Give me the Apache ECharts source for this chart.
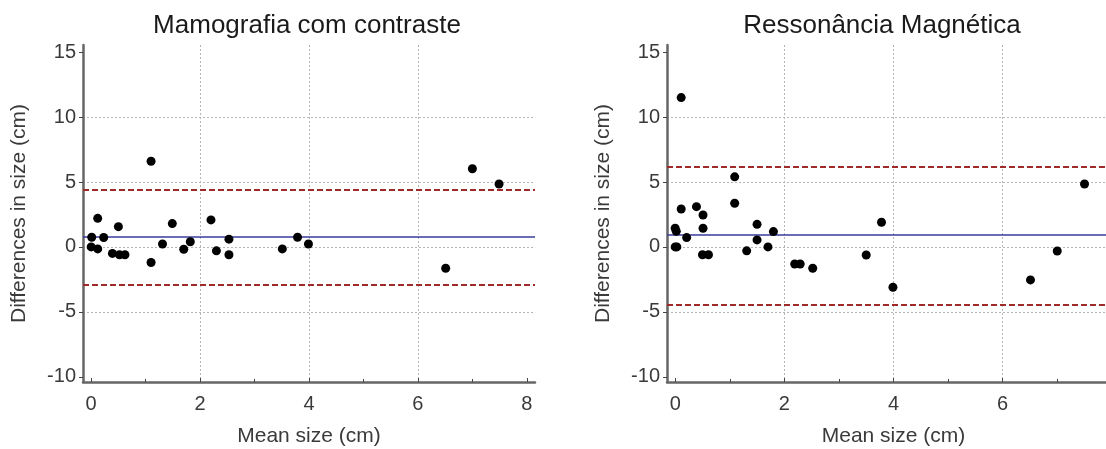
<!DOCTYPE html>
<html>
<head>
<meta charset="utf-8">
<script src="https://cdn.jsdelivr.net/npm/echarts@6/dist/echarts.min.js"></script>
<style>
  html, body { margin: 0; padding: 0; background: #fff; }
  #chart { width: 1106px; height: 449px; }
</style>
</head>
<body>
<div id="chart"></div>
<script>
// Mamografia com contraste: mean size vs difference
const mamoMean = [0.01, 0.0, 0.12, 0.12, 0.23, 0.39, 0.5, 0.52, 0.62, 1.1, 1.1, 1.31, 1.49, 1.7, 1.82, 2.2, 2.3, 2.53, 2.53, 3.51, 3.79, 3.99, 6.51, 7.0, 7.49]
const mamoDiff = [0.75, 0.0, 2.2, -0.15, 0.73, -0.5, 1.56, -0.6, -0.6, 6.6, -1.2, 0.23, 1.8, -0.18, 0.4, 2.08, -0.3, 0.6, -0.6, -0.15, 0.75, 0.23, -1.64, 6.02, 4.85]
const mamoBias = 0.75
const mamoLimits = [4.44, -2.92]

// Ressonância Magnética
const rmMean = [0.11, 0.0, 0.02, 0.0, 0.03, 0.11, 0.21, 0.39, 0.51, 0.51, 0.5, 0.61, 1.09, 1.09, 1.31, 1.5, 1.5, 1.7, 1.8, 2.19, 2.29, 2.52, 3.5, 3.78, 3.99, 6.51, 7.0, 7.5]
const rmDiff = [11.5, 1.44, 1.2, 0.0, 0.0, 2.92, 0.72, 3.1, 2.46, 1.44, -0.6, -0.6, 5.4, 3.36, -0.3, 1.74, 0.54, 0.0, 1.18, -1.31, -1.31, -1.64, -0.62, 1.9, -3.1, -2.54, -0.31, 4.85]
const rmBias = 0.92
const rmLimits = [6.18, -4.46]

const titles = ['Mamografia com contraste', 'Ressonância Magnética']
const xLabels = [0, 2, 4, 6, 8]
const yLabels = [-10, -5, 0, 5, 10, 15]

const font = 'Liberation Sans, Arial, sans-serif'
const gridLine = { show: true, showMinLine: false, showMaxLine: false, lineStyle: { color: '#b5b5b5', type: [2, 2], width: 1 } }

function xAxisFor (gridIndex) {
  return {
    gridIndex: gridIndex,
    type: 'value',
    min: -0.15,
    max: 8.15,
    name: 'Mean size (cm)',
    nameLocation: 'middle',
    nameGap: 44,
    nameTextStyle: { fontFamily: font, fontSize: 21, color: '#3a3a3a' },
    axisLine: { onZero: false, lineStyle: { color: '#666', width: 2.5 } },
    axisTick: { inside: true, length: 4, customValues: xLabels, lineStyle: { color: '#444' } },
    minorTick: { show: true, splitNumber: 2, length: 3, lineStyle: { color: '#444' } },
    axisLabel: { fontFamily: font, fontSize: 20, color: '#3a3a3a', margin: 12, customValues: xLabels },
    splitLine: gridLine
  }
}

function yAxisFor (gridIndex) {
  return {
    gridIndex: gridIndex,
    type: 'value',
    min: -10.4,
    max: 15.55,
    name: 'Differences in size (cm)',
    nameLocation: 'middle',
    nameGap: 53,
    nameTextStyle: { fontFamily: font, fontSize: 21, color: '#3a3a3a' },
    axisLine: { show: true, onZero: false, lineStyle: { color: '#666', width: 2.5 } },
    axisTick: { show: true, length: 4, customValues: yLabels, lineStyle: { color: '#444' } },
    axisLabel: { fontFamily: font, fontSize: 20, color: '#3a3a3a', margin: 7, customValues: yLabels },
    splitLine: gridLine
  }
}

function pairs (xs, ys) {
  return xs.map((x, i) => [x, ys[i]])
}

function seriesFor (index, xs, ys, bias, limits) {
  return {
    type: 'scatter',
    xAxisIndex: index,
    yAxisIndex: index,
    data: pairs(xs, ys),
    symbolSize: 9,
    itemStyle: { color: '#000', opacity: 1 },
    z: 5,
    markLine: {
      silent: true,
      symbol: 'none',
      label: { show: false },
      data: [
        { yAxis: bias, lineStyle: { color: '#3b3b9c', width: 1.5, type: 'solid' } },
        { yAxis: limits[0], lineStyle: { color: '#9e2a2a', width: 2, type: [6, 3] } },
        { yAxis: limits[1], lineStyle: { color: '#9e2a2a', width: 2, type: [6, 3] } }
      ]
    }
  }
}

const chart = echarts.init(document.getElementById('chart'))
chart.setOption({
  backgroundColor: '#fff',
  animation: false,
  title: [
    { text: titles[0], left: 302, top: 8, textAlign: 'center', textStyle: { fontFamily: font, fontSize: 26, fontWeight: 'normal', color: '#1a1a1a' } },
    { text: titles[1], left: 877, top: 8, textAlign: 'center', textStyle: { fontFamily: font, fontSize: 26, fontWeight: 'normal', color: '#1a1a1a' } }
  ],
  grid: [
    { left: 83, top: 45, width: 452, height: 337, outerBoundsMode: 'none' },
    { left: 667, top: 45, width: 453, height: 337, outerBoundsMode: 'none' }
  ],
  xAxis: [xAxisFor(0), xAxisFor(1)],
  yAxis: [yAxisFor(0), yAxisFor(1)],
  series: [
    seriesFor(0, mamoMean, mamoDiff, mamoBias, mamoLimits),
    seriesFor(1, rmMean, rmDiff, rmBias, rmLimits)
  ]
})
</script>
</body>
</html>
